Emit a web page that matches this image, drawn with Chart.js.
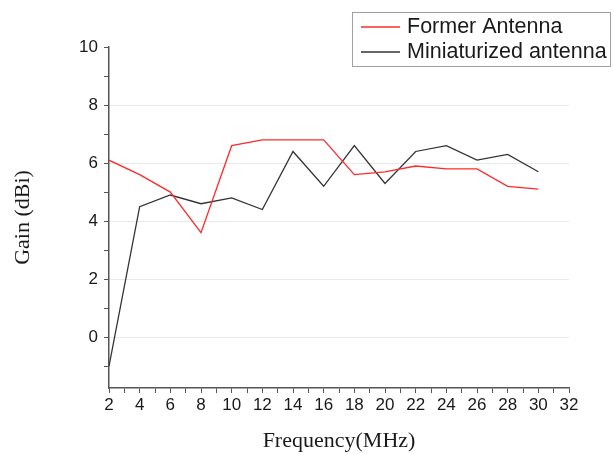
<!DOCTYPE html>
<html>
<head>
    <meta charset="UTF-8">
    <title>Gain vs Frequency</title>
    <style>
        body { margin: 0; background: #fff; }
        #wrap { width: 614px; height: 454px; }
    </style>
</head>
<body>
<script src="https://cdn.jsdelivr.net/npm/chart.js@4/dist/chart.umd.min.js"></script>
<div id="wrap"><canvas id="myChart" width="614" height="454"></canvas></div>

<script type="text/javascript">
    // values
    var freqs = [2, 4, 6, 8, 10, 12, 14, 16, 18, 20, 22, 24, 26, 28, 30];
    var formerGain = [6.1, 5.6, 5.0, 3.6, 6.6, 6.8, 6.8, 6.8, 5.6, 5.7, 5.9, 5.8, 5.8, 5.2, 5.1];
    var miniGain = [-1.0, 4.5, 4.9, 4.6, 4.8, 4.4, 6.4, 5.2, 6.6, 5.3, 6.4, 6.6, 6.1, 6.3, 5.7];
    var seriesNames = ["Former Antenna", "Miniaturized antenna"];
    var seriesColors = ["#ff2a2a", "#333333"];

    var toPoints = function(ys) {
        return freqs.map(function(f, i) { return { x: f, y: ys[i] }; });
    };

    var textColor = "#1a1a1a";
    var axisColor = "#555555";

    // boxed legend in the top right corner, like the original
    var boxLegend = {
        id: 'boxLegend',
        afterDraw: function(chart) {
            var c = chart.ctx;
            var sets = chart.data.datasets;
            c.save();
            c.strokeStyle = "#a0a0a0";
            c.lineWidth = 1;
            c.strokeRect(352.5, 12.5, 258, 54);
            c.font = "21.5px 'Liberation Sans', Arial, sans-serif";
            c.textBaseline = "middle";
            sets.forEach(function(ds, i) {
                var y = 27 + i * 25;
                c.strokeStyle = seriesColors[i];
                c.lineWidth = 1.3;
                c.beginPath();
                c.moveTo(361, y);
                c.lineTo(400, y);
                c.stroke();
                c.fillStyle = textColor;
                c.fillText(ds.label, 407, y);
            });
            c.restore();
        }
    };

    var ctx = document.getElementById('myChart').getContext('2d');
    var myChart = new Chart(ctx, {
        type: 'line',
        data: {
            datasets: [
                { label: seriesNames[0], data: toPoints(formerGain), borderColor: seriesColors[0], borderWidth: 1.3, pointRadius: 0, tension: 0, fill: false },
                { label: seriesNames[1], data: toPoints(miniGain), borderColor: seriesColors[1], borderWidth: 1.3, pointRadius: 0, tension: 0, fill: false }
            ]
        },
        options: {
            responsive: false,
            animation: false,
            layout: { padding: { left: 0, right: 45, top: 47, bottom: 0 } },
            plugins: {
                legend: { display: false },
                tooltip: { enabled: false }
            },
            scales: {
                x: {
                    type: 'linear',
                    min: 2,
                    max: 32,
                    afterFit: function(s) { s.height = 66; },
                    ticks: {
                        stepSize: 1,
                        autoSkip: false,
                        maxRotation: 0,
                        color: textColor,
                        padding: 2,
                        font: { family: "'Liberation Sans', Arial, sans-serif", size: 17 },
                        callback: function(v) { return v % 2 === 0 ? v : ''; }
                    },
                    grid: {
                        drawOnChartArea: false,
                        tickLength: 5,
                        tickColor: axisColor
                    },
                    border: { display: true, color: axisColor, width: 1.5 },
                    title: {
                        display: true,
                        text: 'Frequency(MHz)',
                        color: textColor,
                        padding: { top: 6, bottom: 0 },
                        font: { family: "'Liberation Serif', 'Times New Roman', serif", size: 22 }
                    }
                },
                y: {
                    type: 'linear',
                    min: -1.75,
                    max: 10,
                    afterFit: function(s) { s.width = 109; },
                    ticks: {
                        stepSize: 1,
                        includeBounds: false,
                        autoSkip: false,
                        color: textColor,
                        padding: 6,
                        font: { family: "'Liberation Sans', Arial, sans-serif", size: 17 },
                        callback: function(v) { return v % 2 === 0 ? v : ''; }
                    },
                    grid: {
                        tickLength: 5,
                        tickColor: axisColor,
                        color: function(c) {
                            var v = c.tick && c.tick.value;
                            return (v % 2 === 0 && v < 10) ? "#e8e8e8" : "rgba(0,0,0,0)";
                        }
                    },
                    border: { display: true, color: axisColor, width: 1.5 },
                    title: {
                        display: true,
                        text: 'Gain (dBi)',
                        color: textColor,
                        padding: { top: 10, bottom: 10 },
                        font: { family: "'Liberation Serif', 'Times New Roman', serif", size: 22 }
                    }
                }
            }
        },
        plugins: [boxLegend]
    });
</script>
</body>
</html>
